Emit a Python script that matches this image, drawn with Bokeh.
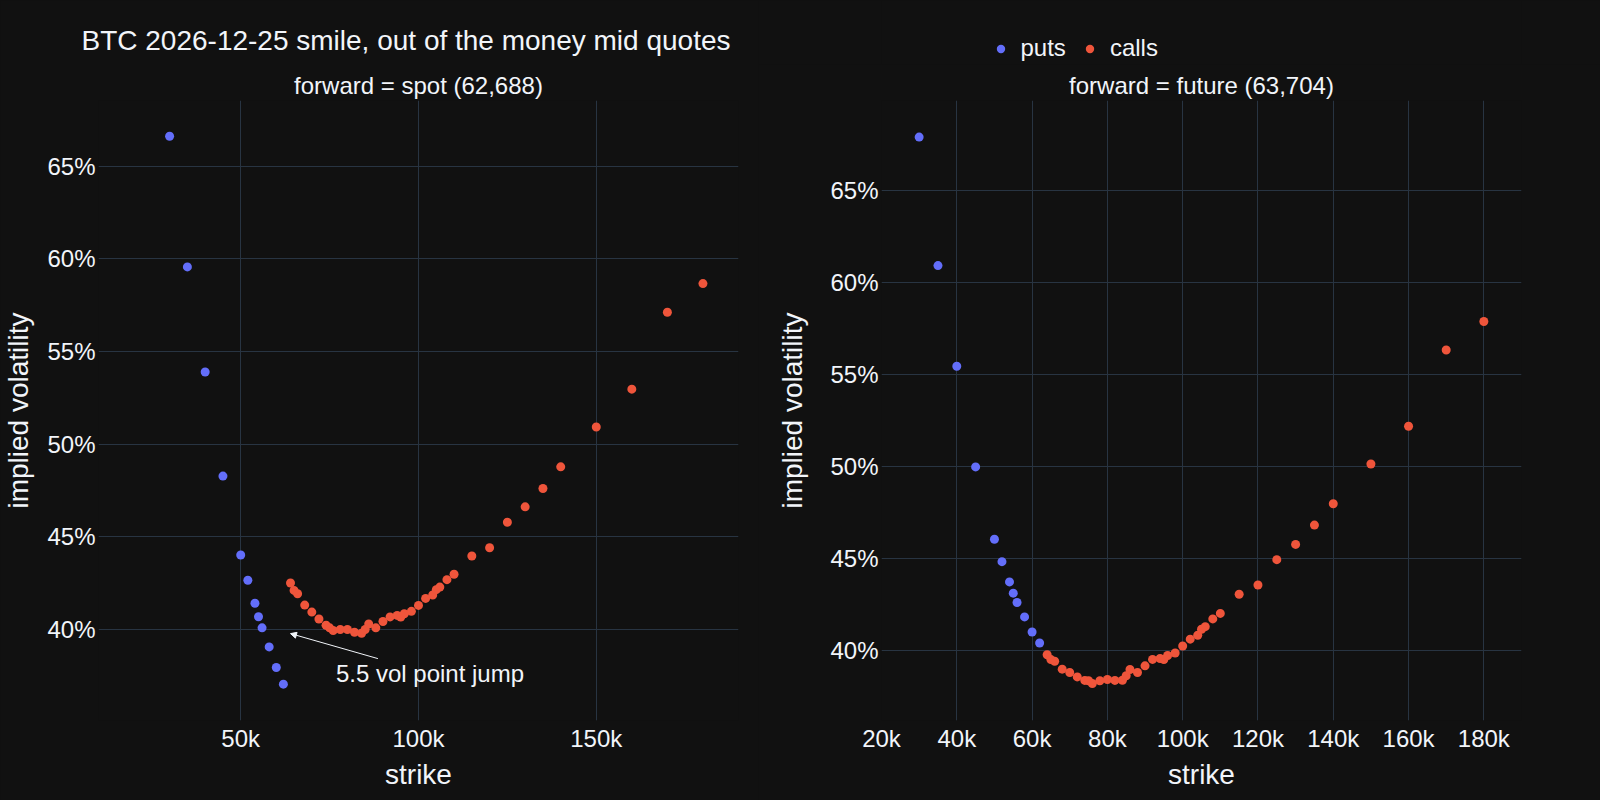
from bokeh.plotting import figure
from bokeh.models import (FixedTicker, CustomJSTickFormatter, Title, Legend, LegendItem,
                          Label, Arrow, NormalHead, GlobalInlineStyleSheet)
from bokeh.layouts import row, column
from bokeh.embed import file_html
from bokeh.resources import INLINE

# ---------------- data ----------------
put_strikes = [30000, 35000, 40000, 45000, 50000, 52000, 54000, 55000, 56000, 58000, 60000, 62000]
call_strikes = [64000, 65000, 66000, 68000, 70000, 72000, 74000, 75000, 76000, 78000,
                80000, 82000, 84000, 85000, 86000, 88000, 90000, 92000, 94000, 95000,
                96000, 98000, 100000, 102000, 104000, 105000, 106000, 108000, 110000, 115000,
                120000, 125000, 130000, 135000, 140000, 150000, 160000, 170000, 180000]

# implied vol (%) with forward = spot
spot_put_iv = [66.62, 59.57, 53.90, 48.28, 44.02, 42.66, 41.42, 40.69, 40.09, 39.06, 37.95, 37.05]
spot_call_iv = [42.51, 42.11, 41.93, 41.32, 40.94, 40.57, 40.23, 40.09, 39.95, 40.00,
                40.00, 39.85, 39.80, 40.00, 40.30, 40.09, 40.43, 40.68, 40.76, 40.67,
                40.85, 40.98, 41.30, 41.68, 41.86, 42.15, 42.29, 42.69, 42.98, 43.97,
                44.41, 45.79, 46.62, 47.61, 48.78, 50.93, 52.97, 57.12, 58.67]

# implied vol (%) with forward = future
fut_put_iv = [67.88, 60.90, 55.43, 49.96, 46.03, 44.81, 43.71, 43.10, 42.59, 41.81, 40.99, 40.39]
fut_call_iv = [39.75, 39.49, 39.40, 38.97, 38.79, 38.55, 38.36, 38.34, 38.19, 38.34,
               38.41, 38.36, 38.37, 38.61, 38.95, 38.79, 39.15, 39.50, 39.55, 39.49,
               39.71, 39.85, 40.23, 40.60, 40.81, 41.14, 41.28, 41.70, 42.00, 43.04,
               43.54, 44.92, 45.75, 46.80, 47.96, 50.12, 52.17, 56.31, 57.86]

spot_fwd = 62688
fut_fwd = 63704

left_xticks = [50000, 100000, 150000]
right_xticks = [20000, 40000, 60000, 80000, 100000, 120000, 140000, 160000, 180000]
yticks = [40, 45, 50, 55, 60, 65]

# ---------------- style ----------------
BG = "#111111"
GRID = "#283442"
TXT = "#f2f5fa"
PUT_C = "#636efa"
CALL_C = "#EF553B"
FONT = "Liberation Sans"
FW, FH = 640, 620
TOP, BOTTOM = 100, 80
LEG_H = 64
P1_L, P1_R = 97, 20
P2_L, P2_R = 123, 80

xfmt = "return (tick/1000).toFixed(0) + 'k';"
yfmt = "return tick.toFixed(0) + '%';"


def make_fig(xr, yr, left_border, right_border, top_border, ylabel_standoff):
    p = figure(frame_width=FW, frame_height=FH, x_range=xr, y_range=yr,
               min_border_left=left_border, min_border_right=right_border,
               min_border_top=top_border, min_border_bottom=BOTTOM,
               output_backend="svg", toolbar_location=None,
               background_fill_color=BG, border_fill_color=BG, outline_line_color=None)
    for ax in (p.xaxis[0], p.yaxis[0]):
        ax.axis_line_color = None
        ax.major_tick_line_color = None
        ax.minor_tick_line_color = None
        ax.major_tick_out = 0
        ax.major_tick_in = 0
        ax.minor_tick_out = 0
        ax.minor_tick_in = 0
        ax.major_label_text_font = FONT
        ax.major_label_text_font_size = "24px"
        ax.major_label_text_color = TXT
        ax.axis_label_text_font = FONT
        ax.axis_label_text_font_size = "28px"
        ax.axis_label_text_font_style = "normal"
        ax.axis_label_text_color = TXT
    p.xaxis.axis_label = "strike"
    p.yaxis.axis_label = "implied volatility"
    p.xaxis.major_label_standoff = 4
    p.xaxis.axis_label_standoff = 4
    p.yaxis.major_label_standoff = 3
    p.yaxis.axis_label_standoff = ylabel_standoff
    p.yaxis.ticker = FixedTicker(ticks=yticks)
    p.xaxis.formatter = CustomJSTickFormatter(code=xfmt)
    p.yaxis.formatter = CustomJSTickFormatter(code=yfmt)
    p.grid.grid_line_color = GRID
    p.grid.grid_line_width = 1
    return p


p1 = make_fig((10000, 190000), (35.09, 68.55), P1_L, P1_R, TOP, 10)
p1.xaxis.ticker = FixedTicker(ticks=left_xticks)
p2 = make_fig((20000, 190000), (36.18, 69.87), P2_L, P2_R, TOP - LEG_H, 19)
p2.xaxis.ticker = FixedTicker(ticks=right_xticks)

p1.add_layout(Title(text=f"forward = spot ({spot_fwd:,})", align="center", text_font=FONT,
                    text_font_size="24px", text_font_style="normal", text_color=TXT,
                    standoff=4), "above")
p1.add_layout(Title(text="BTC 2026-12-25 smile, out of the money mid quotes", align="left",
                    offset=-17, text_font=FONT, text_font_size="28px", text_font_style="normal",
                    text_color=TXT, standoff=23), "above")
p2.add_layout(Title(text=f"forward = future ({fut_fwd:,})", align="center", text_font=FONT,
                    text_font_size="24px", text_font_style="normal", text_color=TXT,
                    standoff=4), "above")

MS = 9
p1.scatter(put_strikes, spot_put_iv, size=MS, color=PUT_C, line_color=None)
p1.scatter(call_strikes, spot_call_iv, size=MS, color=CALL_C, line_color=None)
p2.scatter(put_strikes, fut_put_iv, size=MS, color=PUT_C, line_color=None)
p2.scatter(call_strikes, fut_call_iv, size=MS, color=CALL_C, line_color=None)

# legend strip above the right panel (its frame is aligned with the right panel's frame)
LW = P2_L + FW + P2_R
lf = figure(width=LW, height=LEG_H, x_range=(0, 1), y_range=(0, 1),
            min_border=0, x_axis_location=None, y_axis_location=None,
            output_backend="svg", toolbar_location=None,
            background_fill_color=BG, border_fill_color=BG, outline_line_color=None)
lf.xgrid.visible = False
lf.ygrid.visible = False
nan = float("nan")
lp = lf.scatter(x=[nan], y=[nan], size=MS, color=PUT_C, line_color=None)
lc = lf.scatter(x=[nan], y=[nan], size=MS, color=CALL_C, line_color=None)
legend = Legend(items=[LegendItem(label="puts", renderers=[lp]),
                       LegendItem(label="calls", renderers=[lc])],
                orientation="horizontal", location=(108.5, 2),
                glyph_width=21, glyph_height=21, label_standoff=10, spacing=13,
                padding=0, margin=0, border_line_color=None, background_fill_alpha=0,
                label_text_font=FONT, label_text_font_size="24px", label_text_color=TXT)
lf.add_layout(legend, "center")

# annotation: jump between last put and first call
jump = spot_call_iv[0] - spot_put_iv[-1]
hx = call_strikes[0]
hy = (spot_call_iv[0] + spot_put_iv[-1]) / 2
xpx = FW / (190000 - 10000)
ypx = FH / (68.55 - 35.09)
tail_dx, tail_dy = 87.4, 25.0
p1.add_layout(Arrow(end=NormalHead(size=6, line_color=TXT, fill_color=TXT, line_width=1),
                    x_start=hx + tail_dx / xpx, y_start=hy - tail_dy / ypx,
                    x_end=hx, y_end=hy, line_color=TXT, line_width=1))
p1.add_layout(Label(x=hx, y=hy, x_offset=139.5, y_offset=-40,
                    text=f"{jump:.1f} vol point jump", text_align="center",
                    text_baseline="middle", text_font=FONT, text_font_size="24px",
                    text_color=TXT))

layout = row(p1, column(lf, p2),
             stylesheets=[GlobalInlineStyleSheet(css="html, body { background-color: #111111; }")])

open("out.html", "w").write(file_html(layout, INLINE))
